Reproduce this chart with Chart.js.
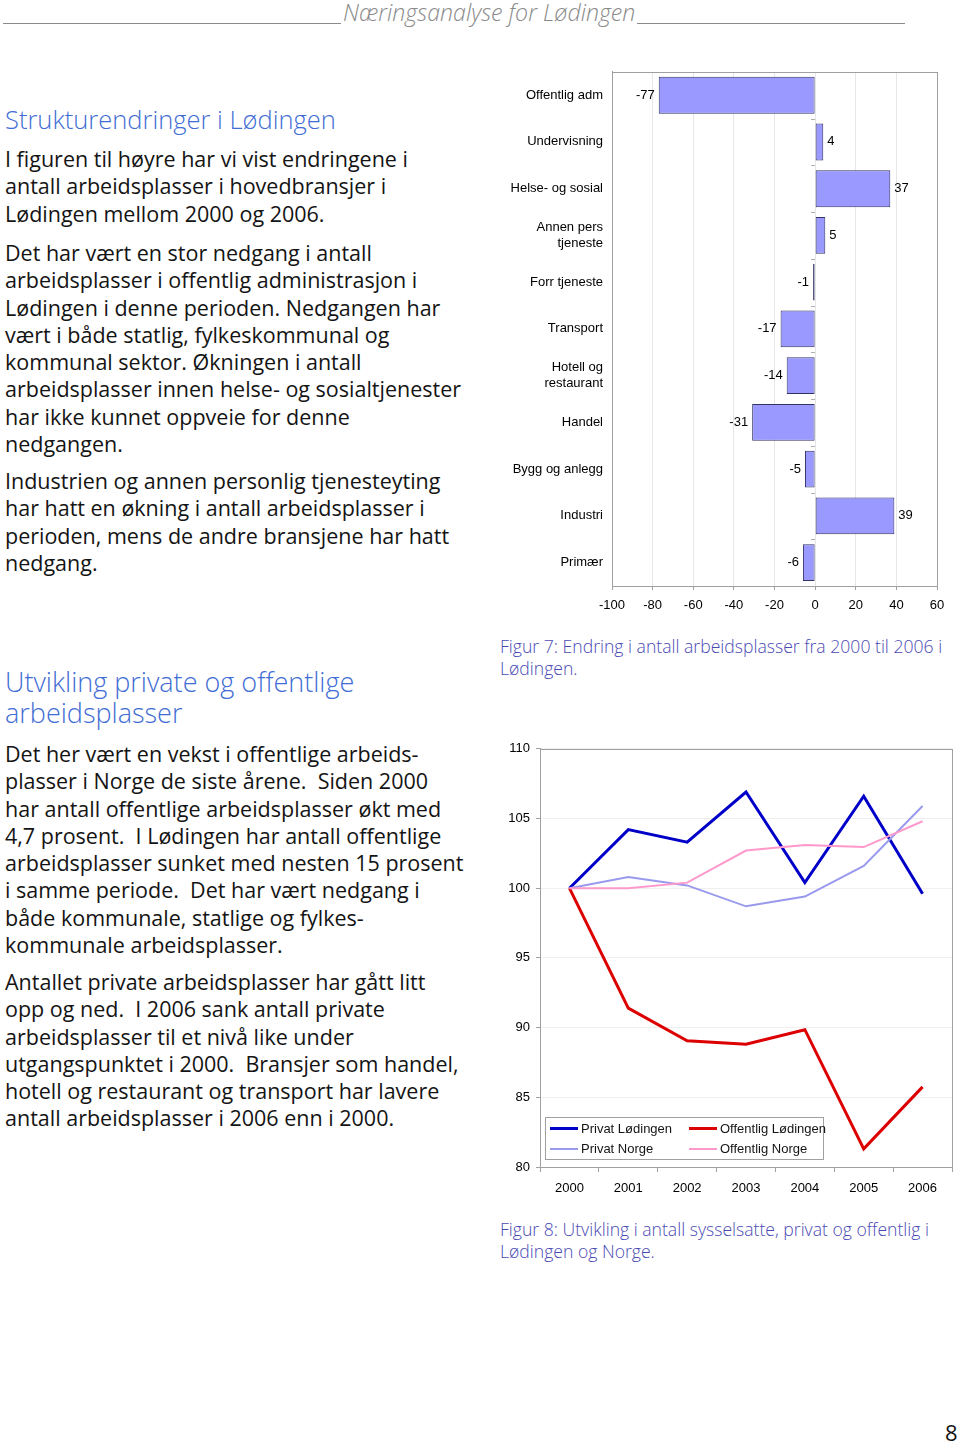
<!DOCTYPE html>
<html lang="no">
<head>
<meta charset="utf-8">
<script src="https://cdn.jsdelivr.net/npm/chart.js@4/dist/chart.umd.min.js"></script>
<style>
  html, body { margin: 0; padding: 0; background: #fff; }
  #page { position: relative; width: 960px; height: 1444px; overflow: hidden; font-family: "Open Sans", sans-serif; color: #141414; }
  .abs { position: absolute; white-space: nowrap; }
  .txt { left: 5px; font-size: 21.5px; line-height: 27.3px; }
  .h { left: 5px; color: #3f6dd4; font-weight: 300; font-size: 27px; }
  .cap { left: 500px; color: #4a4ab4; font-size: 17.6px; line-height: 22px; font-weight: 300; }
  #hdr { left: 3px; top: 0; width: 902px; height: 24px; display: flex; align-items: flex-end; }
  #hdr .ln { flex: 1; border-bottom: 1px solid #8a8a8a; height: 21px; }
  #hdr .ln.l { flex: none; width: 338px; }
  #hdr .t { font-style: italic; color: #8a8a8a; font-size: 23.2px; line-height: 24px; padding: 0 2px; font-weight: 300; }
  #legend { left: 545px; top: 1117px; width: 277px; height: 41px; border: 1px solid #a0a0a0; background: #fff;
            font-family: "Liberation Sans", Arial, sans-serif; font-size: 13px; }
  #legend .it { position: absolute; display: flex; align-items: center; }
  #legend .sw { width: 28px; margin-right: 3px; }
</style>
</head>
<body>
<div id="page">
  <div id="hdr" class="abs"><div class="ln l"></div><div class="t">Næringsanalyse for Lødingen</div><div class="ln"></div></div>

  <div class="abs h" style="top:103px;line-height:32px;font-size:25.5px;">Strukturendringer i Lødingen</div>
  <div class="abs txt" style="top:145px;">I figuren til høyre har vi vist endringene i<br>antall arbeidsplasser i hovedbransjer i<br>Lødingen mellom 2000 og 2006.</div>
  <div class="abs txt" style="top:239px;">Det har vært en stor nedgang i antall<br>arbeidsplasser i offentlig administrasjon i<br>Lødingen i denne perioden. Nedgangen har<br>vært i både statlig, fylkeskommunal og<br>kommunal sektor. Økningen i antall<br>arbeidsplasser innen helse- og sosialtjenester<br>har ikke kunnet oppveie for denne<br>nedgangen.</div>
  <div class="abs txt" style="top:467px;">Industrien og annen personlig tjenesteyting<br>har hatt en økning i antall arbeidsplasser i<br>perioden, mens de andre bransjene har hatt<br>nedgang.</div>

  <div class="abs h" style="top:666px;line-height:31px;">Utvikling private og offentlige<br>arbeidsplasser</div>
  <div class="abs txt" style="top:740px;">Det her vært en vekst i offentlige arbeids-<br>plasser i Norge de siste årene.&nbsp; Siden 2000<br>har antall offentlige arbeidsplasser økt med<br>4,7 prosent.&nbsp; I Lødingen har antall offentlige<br>arbeidsplasser sunket med nesten 15 prosent<br>i samme periode.&nbsp; Det har vært nedgang i<br>både kommunale, statlige og fylkes-<br>kommunale arbeidsplasser.</div>
  <div class="abs txt" style="top:968px;">Antallet private arbeidsplasser har gått litt<br>opp og ned.&nbsp; I 2006 sank antall private<br>arbeidsplasser til et nivå like under<br>utgangspunktet i 2000.&nbsp; Bransjer som handel,<br>hotell og restaurant og transport har lavere<br>antall arbeidsplasser i 2006 enn i 2000.</div>

  <div class="abs" style="left:500px;top:63px;width:455px;height:557px;"><canvas id="cBar"></canvas></div>
  <div class="abs cap" style="top:635px;">Figur 7: Endring i antall arbeidsplasser fra 2000 til 2006 i<br>Lødingen.</div>

  <div class="abs" style="left:500px;top:735px;width:460px;height:465px;"><canvas id="cLine"></canvas></div>
  <div id="legend" class="abs"></div>
  <div class="abs cap" style="top:1218px;">Figur 8: Utvikling i antall sysselsatte, privat og offentlig i<br>Lødingen og Norge.</div>

  <div class="abs" style="left:945px;top:1418px;font-size:22px;line-height:28px;">8</div>
</div>

<script>
// Figur 7 – endring i arbeidsplasser 2000-2006
const bransjer = ['Offentlig adm', 'Undervisning', 'Helse- og sosial', ['Annen pers', 'tjeneste'],
    'Forr tjeneste', 'Transport', ['Hotell og', 'restaurant'], 'Handel', 'Bygg og anlegg', 'Industri', 'Primær'];
const endring = [-77, 4, 37, 5, -1, -17, -14, -31, -5, 39, -6];
const endringTicks = [-100, -80, -60, -40, -20, 0, 20, 40, 60];

// Figur 8 – indeks 2000 = 100
const aar = ['2000', '2001', '2002', '2003', '2004', '2005', '2006'];
const privatLodingen = [100, 104.2, 103.3, 106.9, 100.4, 106.6, 99.6];
const offentligLodingen = [100, 91.4, 89.05, 88.8, 89.85, 81.3, 85.75];
const privatNorge = [100, 100.8, 100.2, 98.7, 99.4, 101.6, 105.9];
const offentligNorge = [100, 100, 100.4, 102.7, 103.1, 102.95, 104.8];
const indeksTicks = [80, 85, 90, 95, 100, 105, 110];

const FONT = '"Liberation Sans", Arial, sans-serif';
Chart.defaults.font.family = FONT;
Chart.defaults.font.size = 13;
Chart.defaults.color = '#000';
Chart.defaults.animation = false;

// ramme rundt plottområdet
const frame = {
    id: 'frame',
    afterDraw(chart) {
        const a = chart.chartArea, c = chart.ctx;
        c.save();
        c.strokeStyle = '#a0a0a0';
        c.lineWidth = 1;
        c.strokeRect(Math.round(a.left) + .5, Math.round(a.top) + .5, Math.round(a.right - a.left), Math.round(a.bottom - a.top));
        c.restore();
    }
};

// verdietiketter ved enden av stolpene + små streker på nullaksen
const barLabels = {
    id: 'barLabels',
    beforeDatasetsDraw(chart) {
        const c = chart.ctx, sx = chart.scales.x, sy = chart.scales.y;
        const x0 = Math.round(sx.getPixelForValue(0));
        c.save();
        c.strokeStyle = '#b0b0b0';
        c.lineWidth = 1;
        for (let i = 0; i <= bransjer.length; i++) {
            const y = Math.round(sy.getPixelForValue(i - 0.5)) + .5;
            c.beginPath(); c.moveTo(x0 - 4, y); c.lineTo(x0, y); c.stroke();
        }
        c.restore();
    },
    afterDatasetsDraw(chart) {
        const c = chart.ctx;
        const meta = chart.getDatasetMeta(0);
        c.save();
        c.font = '13px ' + FONT;
        c.fillStyle = '#000';
        c.textBaseline = 'middle';
        meta.data.forEach((bar, i) => {
            const v = endring[i];
            if (v < 0) { c.textAlign = 'right'; c.fillText(String(v), bar.x - 4, bar.y); }
            else { c.textAlign = 'left'; c.fillText(String(v), bar.x + 4, bar.y); }
        });
        c.restore();
    }
};

new Chart(document.getElementById('cBar'), {
    type: 'bar',
    data: {
        labels: bransjer,
        datasets: [{
            data: endring,
            backgroundColor: '#9999ff',
            borderColor: '#333366',
            borderWidth: 1,
            borderSkipped: false,
            categoryPercentage: 1,
            barPercentage: 0.79
        }]
    },
    options: {
        indexAxis: 'y',
        responsive: true,
        maintainAspectRatio: false,
        layout: { autoPadding: false, padding: { top: 2, right: 18, left: 0, bottom: 0 } },
        plugins: { legend: { display: false }, tooltip: { enabled: false } },
        scales: {
            x: {
                min: -100, max: 60,
                afterFit: s => { s.height = 34; },
                afterBuildTicks: s => { s.ticks = endringTicks.map(v => ({ value: v })); },
                ticks: { padding: 8, font: { size: 13 } },
                grid: { color: '#e6e6e6', tickColor: '#a0a0a0', tickLength: 4 },
                border: { color: '#a0a0a0' }
            },
            y: {
                afterFit: s => { s.width = 112; },
                ticks: { padding: 1, font: { size: 13 } },
                grid: { display: false },
                border: { color: '#a0a0a0' }
            }
        }
    },
    plugins: [frame, barLabels]
});

const serier = [
    { label: 'Privat Lødingen', data: privatLodingen, color: '#0000c8', width: 3 },
    { label: 'Offentlig Lødingen', data: offentligLodingen, color: '#dd0000', width: 3 },
    { label: 'Privat Norge', data: privatNorge, color: '#9999ee', width: 2 },
    { label: 'Offentlig Norge', data: offentligNorge, color: '#ff99cc', width: 2 }
];

new Chart(document.getElementById('cLine'), {
    type: 'line',
    data: {
        labels: aar,
        datasets: serier.map((s, i) => ({
            label: s.label,
            data: s.data,
            borderColor: s.color,
            backgroundColor: s.color,
            borderWidth: s.width,
            pointRadius: 0,
            tension: 0,
            order: 3 - i
        }))
    },
    options: {
        responsive: true,
        maintainAspectRatio: false,
        layout: { autoPadding: false, padding: { top: 9, right: 8, left: 0, bottom: 0 } },
        plugins: { legend: { display: false }, tooltip: { enabled: false } },
        scales: {
            x: {
                offset: true,
                afterFit: s => { s.height = 33; },
                ticks: { padding: 9, font: { size: 13 } },
                grid: { offset: true, drawOnChartArea: false, tickColor: '#a0a0a0', tickLength: 5 },
                border: { color: '#a0a0a0' }
            },
            y: {
                min: 80, max: 110,
                afterFit: s => { s.width = 40; },
                afterBuildTicks: s => { s.ticks = indeksTicks.map(v => ({ value: v })); },
                ticks: { padding: 6, font: { size: 13 } },
                grid: { color: '#efefef', tickColor: '#a0a0a0', tickLength: 4 },
                border: { color: '#a0a0a0' }
            }
        }
    },
    plugins: [frame]
});

// tegnforklaring inne i plottet
const legend = document.getElementById('legend');
const pos = [[4, 3], [143, 3], [4, 23], [143, 23]];
serier.forEach((s, i) => {
    const it = document.createElement('div');
    it.className = 'it';
    it.style.left = pos[i][0] + 'px';
    it.style.top = pos[i][1] + 'px';
    it.innerHTML = '<div class="sw" style="border-top:' + s.width + 'px solid ' + s.color + '"></div><span></span>';
    it.querySelector('span').textContent = s.label;
    legend.appendChild(it);
});
</script>
</body>
</html>
